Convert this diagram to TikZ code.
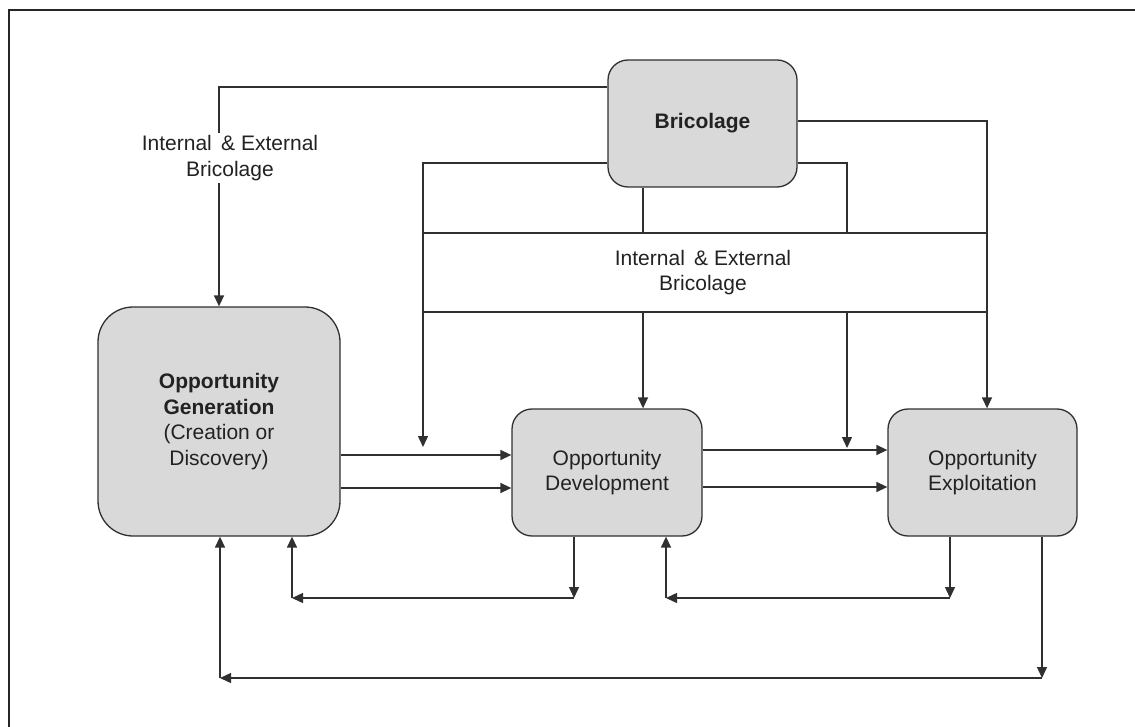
\documentclass[tikz,border=0pt]{standalone}
\usepackage{fontspec}
\setmainfont{Liberation Sans}
\usetikzlibrary{arrows.meta}
\definecolor{linec}{HTML}{303030}
\definecolor{boxfill}{HTML}{D9D9D9}
\definecolor{txtc}{HTML}{222222}
\tikzset{
  box/.style={draw=linec, line width=1.3pt, fill=boxfill, rounded corners=20pt, align=center, text=txtc, font=\fontsize{21}{25.5}\selectfont, inner sep=0pt},
  conn/.style={draw=linec, line width=1.4pt},
  arr/.style={conn, -{Triangle[length=11pt,width=10pt]}},
  lbl/.style={align=center, text=txtc, font=\fontsize{21}{25.5}\selectfont, inner sep=2pt},
}
\begin{document}
\begin{tikzpicture}[x=1pt,y=-1pt]
\useasboundingbox (0,0) rectangle (1135,727);
% frame
\draw[line width=1.6pt, draw=black!85] (9,727) -- (9,10) -- (1135,10);

% nodes
\node[box, minimum width=189pt, minimum height=127pt] (brico) at (702.5,123.5) {\textbf{Bricolage}};
\node[box, rounded corners=35pt, minimum width=242pt, minimum height=229pt] (og) at (219,421.5) {\textbf{Opportunity}\\\textbf{Generation}\\(Creation or\\Discovery)};
\node[box, minimum width=190pt, minimum height=127pt] (od) at (607,472.5) {Opportunity\\Development};
\node[box, minimum width=189pt, minimum height=127pt] (oe) at (982.5,472.5) {Opportunity\\Exploitation};
\node[draw=linec, line width=1.4pt, minimum width=564pt, minimum height=79pt, inner sep=0pt] (ie) at (705,272.5) {};
\node[lbl] (ielbl) at (703,272.5) {Internal \,\& External\\Bricolage};

% free ends
\coordinate (t1) at (423,447);
\coordinate (t2) at (847,448);
\coordinate (c1) at (574,598);
\coordinate (c2) at (292,598);
\coordinate (c3) at (950,598);
\coordinate (c4) at (666,598);
\coordinate (c5) at (1042,678);
\coordinate (c6) at (220,678);

% top connectors
\draw[arr] (brico.west |- 0,87) -| (og.north);
\node[lbl, fill=white] (lbl1) at (230,158) {Internal \,\& External\\Bricolage};
\draw[arr] (brico.west |- 0,163) -| (t1);
\draw[conn] (brico.south -| 643,0) -- (ie.north -| 643,0);
\draw[arr] (ie.south -| 643,0) -- (od.north -| 643,0);
\draw[arr] (brico.east |- 0,121) -| (oe.north -| 987,0);
\draw[conn] (brico.east |- 0,163) -| (ie.north -| 847,0);
\draw[arr] (ie.south -| 847,0) -- (t2);

% horizontal flows
\draw[arr] (og.east |- 0,455) -- (od.west |- 0,455);
\draw[arr] (og.east |- 0,488) -- (od.west |- 0,488);
\draw[arr] (od.east |- 0,450) -- (oe.west |- 0,450);
\draw[arr] (od.east |- 0,487) -- (oe.west |- 0,487);

% feedback loops
\draw[arr] (od.south -| c1) -- (c1);
\draw[arr] (c1) -- (c2);
\draw[arr] (c2) -- (og.south -| c2);
\draw[arr] (oe.south -| c3) -- (c3);
\draw[arr] (c3) -- (c4);
\draw[arr] (c4) -- (od.south -| c4);
\draw[arr] (oe.south -| c5) -- (c5);
\draw[arr] (c5) -- (c6);
\draw[arr] (c6) -- (og.south -| c6);
\end{tikzpicture}
\end{document}
